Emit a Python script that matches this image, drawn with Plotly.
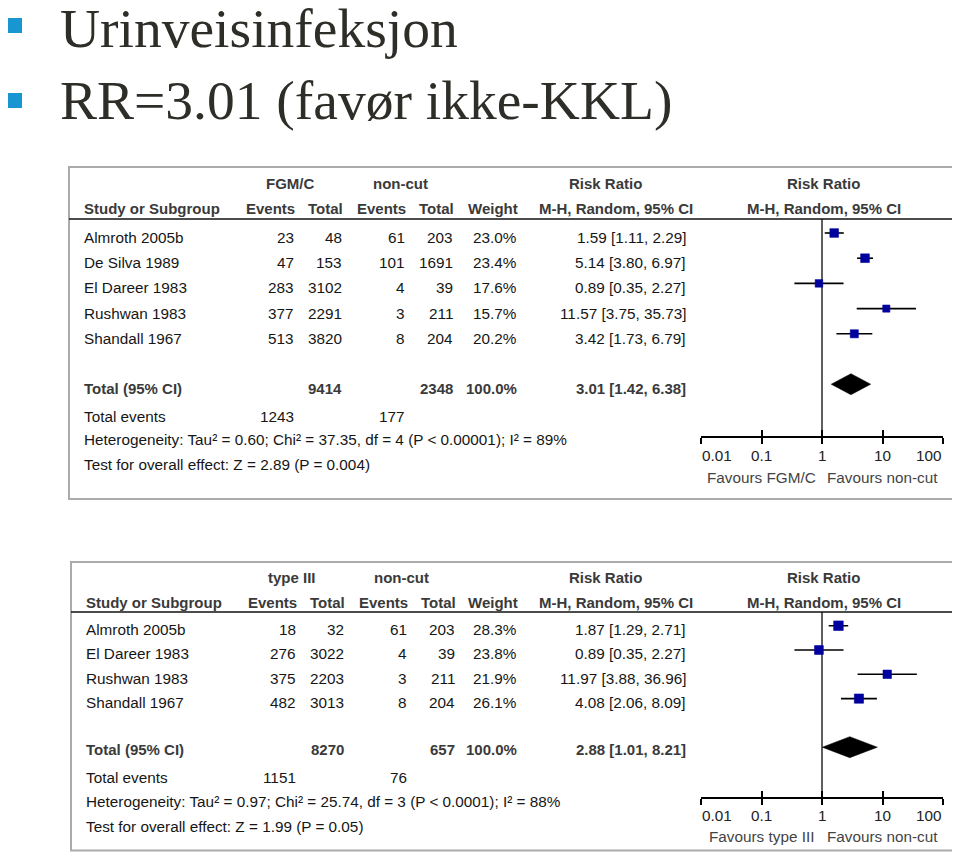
import numpy as np
import plotly.graph_objects as go

# The page body has an 8px margin, so the figure is sized to fill the 960x860 window
# exactly and screen positions below are mapped through that offset.
SCREEN_W, SCREEN_H, OFF = 960, 860, 8
W, H = SCREEN_W - 2 * OFF, SCREEN_H - 2 * OFF
FONT = "Liberation Sans, Arial, sans-serif"
FS = 15.3
FSB = 15.0
BODY = "#161616"
HEAD = "#3a3a3a"
BLUE = "#00009f"

# ---------------- Data: panel 1 (FGM/C vs non-cut) ----------------
studies1 = ["Almroth 2005b", "De Silva 1989", "El Dareer 1983", "Rushwan 1983", "Shandall 1967"]
ev_exp1 = [23, 47, 283, 377, 513]
tot_exp1 = [48, 153, 3102, 2291, 3820]
ev_ctl1 = [61, 101, 4, 3, 8]
tot_ctl1 = [203, 1691, 39, 211, 204]
weight1 = [23.0, 23.4, 17.6, 15.7, 20.2]
rr1 = [1.59, 5.14, 0.89, 11.57, 3.42]
lo1 = [1.11, 3.80, 0.35, 3.75, 1.73]
hi1 = [2.29, 6.97, 2.27, 35.73, 6.79]
sum_n_exp1, sum_n_ctl1 = 9414, 2348
sum_ev_exp1, sum_ev_ctl1 = 1243, 177
sum_weight1 = "100.0%"
pooled1 = [3.01, 1.42, 6.38]
het1 = "Heterogeneity: Tau² = 0.60; Chi² = 37.35, df = 4 (P < 0.00001); I² = 89%"
eff1 = "Test for overall effect: Z = 2.89 (P = 0.004)"
groups1 = ["FGM/C", "non-cut"]
favours1 = ["Favours FGM/C", "Favours non-cut"]

# ---------------- Data: panel 2 (type III vs non-cut) ----------------
studies2 = ["Almroth 2005b", "El Dareer 1983", "Rushwan 1983", "Shandall 1967"]
ev_exp2 = [18, 276, 375, 482]
tot_exp2 = [32, 3022, 2203, 3013]
ev_ctl2 = [61, 4, 3, 8]
tot_ctl2 = [203, 39, 211, 204]
weight2 = [28.3, 23.8, 21.9, 26.1]
rr2 = [1.87, 0.89, 11.97, 4.08]
lo2 = [1.29, 0.35, 3.88, 2.06]
hi2 = [2.71, 2.27, 36.96, 8.09]
sum_n_exp2, sum_n_ctl2 = 8270, 657
sum_ev_exp2, sum_ev_ctl2 = 1151, 76
sum_weight2 = "100.0%"
pooled2 = [2.88, 1.01, 8.21]
het2 = "Heterogeneity: Tau² = 0.97; Chi² = 25.74, df = 3 (P < 0.0001); I² = 88%"
eff2 = "Test for overall effect: Z = 1.99 (P = 0.05)"
groups2 = ["type III", "non-cut"]
favours2 = ["Favours type III", "Favours non-cut"]

tick_vals = [0.01, 0.1, 1, 10, 100]
tick_text = ["0.01", "0.1", "1", "10", "100"]

title_lines = ["Urinveisinfeksjon", "RR=3.01 (favør ikke-KKL)"]


def px(x):
    return (x - OFF) / W


def py(y):
    return 1 - (y - OFF) / H


fig = go.Figure()


def txt(x, y, s, anchor="left", bold=False, color=BODY, size=None, family=FONT):
    if size is None:
        size = FSB if bold else FS
    fig.add_annotation(
        x=px(x), y=py(y), xref="paper", yref="paper",
        text=f"<b>{s}</b>" if bold else s, showarrow=False,
        xanchor=anchor, yanchor="middle", borderpad=0,
        font=dict(family=family, size=size, color=color),
    )


def panel(idx, d, L):
    xa = "x" if idx == 1 else "x3"
    xo = "x2" if idx == 1 else "x4"
    ya = "y" if idx == 1 else "y2"
    xa_l = "xaxis" if idx == 1 else "xaxis3"
    xo_l = "xaxis2" if idx == 1 else "xaxis4"
    ya_l = "yaxis" if idx == 1 else "yaxis2"
    dx = L["dx"]
    unit = L["unit"]
    r0 = L["row0"]

    # frame and header rule
    fig.add_shape(type="rect", xref="paper", yref="paper",
                  x0=px(L["box"][0]), y0=py(L["box"][1]), x1=px(L["box"][2]), y1=py(L["box"][3]),
                  line=dict(color="#ababab", width=2), layer="below")
    fig.add_shape(type="line", xref="paper", yref="paper",
                  x0=px(L["box"][0]), x1=px(L["box"][2]), y0=py(L["rule"]), y1=py(L["rule"]),
                  line=dict(color="#111111", width=1.5))

    # headers
    yg, yh = L["hg"], L["hh"]
    txt(290 + dx, yg, d["groups"][0], "center", True, HEAD)
    txt(400 + dx, yg, d["groups"][1], "center", True, HEAD)
    txt(605, yg, "Risk Ratio", "center", True, HEAD)
    txt(823, yg, "Risk Ratio", "center", True, HEAD)
    txt(83 + dx, yh, "Study or Subgroup", "left", True, HEAD)
    txt(296 + dx, yh, "Events", "right", True, HEAD)
    txt(344 + dx, yh, "Total", "right", True, HEAD)
    txt(407 + dx, yh, "Events", "right", True, HEAD)
    txt(455 + dx, yh, "Total", "right", True, HEAD)
    txt(519, yh, "Weight", "right", True, HEAD)
    txt(616, yh, "M-H, Random, 95% CI", "center", True, HEAD)
    txt(824, yh, "M-H, Random, 95% CI", "center", True, HEAD)

    # study rows
    n = len(d["studies"])
    rows = list(range(n))
    for i in rows:
        yt = r0 + unit * i + L["toff"]
        txt(83 + dx, yt, d["studies"][i])
        txt(295 + dx, yt, str(d["ev_exp"][i]), "right")
        txt(343 + dx, yt, str(d["tot_exp"][i]), "right")
        txt(406 + dx, yt, str(d["ev_ctl"][i]), "right")
        txt(454 + dx, yt, str(d["tot_ctl"][i]), "right")
        txt(518, yt, f"{d['weight'][i]:.1f}%", "right")
        txt(687, yt, f"{d['rr'][i]:.2f} [{d['lo'][i]:.2f}, {d['hi'][i]:.2f}]", "right")

    # total row
    trow = n + 1
    yt = L["ttext"]
    p = d["pooled"]
    txt(83 + dx, yt, "Total (95% CI)", "left", True, HEAD)
    txt(343 + dx, yt, str(d["sum_n_exp"]), "right", True, HEAD)
    txt(454 + dx, yt, str(d["sum_n_ctl"]), "right", True, HEAD)
    txt(518, yt, d["sum_weight"], "right", True, HEAD)
    txt(687, yt, f"{p[0]:.2f} [{p[1]:.2f}, {p[2]:.2f}]", "right", True, HEAD)

    # footer
    txt(83 + dx, L["fe"], "Total events")
    txt(295 + dx, L["fe"], str(d["sum_ev_exp"]), "right")
    txt(406 + dx, L["fe"], str(d["sum_ev_ctl"]), "right")
    txt(83 + dx, L["fh"], d["het"])
    txt(83 + dx, L["ft"], d["eff"])

    # axes
    top_u = (L["rule"] - r0) / unit
    bot_u = (L["axis"] - r0) / unit
    dom_x = [px(701), px(943)]
    dom_y = [py(L["axis"]), py(L["rule"])]

    # null line
    fig.add_trace(go.Scatter(x=[1, 1], y=[top_u, bot_u], mode="lines",
                             line=dict(color="#2a2a2a", width=1.5),
                             xaxis=xa, yaxis=ya, hoverinfo="skip", showlegend=False))
    # CIs
    cx, cy = [], []
    for i in rows:
        cx += [d["lo"][i], d["hi"][i], None]
        cy += [i, i, None]
    fig.add_trace(go.Scatter(x=cx, y=cy, mode="lines", line=dict(color="#000000", width=1.6),
                             xaxis=xa, yaxis=ya, hoverinfo="skip", showlegend=False))
    # boxes
    fig.add_trace(go.Scatter(x=d["rr"], y=rows, mode="markers",
                             marker=dict(symbol="square", color=BLUE, opacity=1,
                                         size=[1.8 * np.sqrt(w) for w in d["weight"]],
                                         line=dict(width=0.6, color=BLUE)),
                             xaxis=xa, yaxis=ya, showlegend=False))
    # diamond
    hh = 10.5 / unit
    fig.add_trace(go.Scatter(x=[p[1], p[0], p[2], p[0], p[1]],
                             y=[trow, trow - hh, trow, trow + hh, trow],
                             mode="lines", fill="toself", fillcolor="#000000",
                             line=dict(color="#000000", width=0.5),
                             xaxis=xa, yaxis=ya, hoverinfo="skip", showlegend=False))
    # dummy trace for overlay axis
    fig.add_trace(go.Scatter(x=[1], y=[0], mode="markers", marker=dict(opacity=0),
                             xaxis=xo, yaxis=ya, hoverinfo="skip", showlegend=False))

    common = dict(type="log", domain=dom_x, range=[-2, 2], anchor=ya, automargin=False,
                  showgrid=False, zeroline=False, fixedrange=True,
                  tickvals=tick_vals, ticktext=tick_text, showticklabels=False,
                  tickwidth=1.5, tickcolor="#000000", ticklen=6)
    fig.update_layout({
        xa_l: dict(common, showline=True, linecolor="#000000", linewidth=1.5,
                   ticks="outside"),
        xo_l: dict(common, overlaying=xa, showline=False, ticks="inside"),
        ya_l: dict(domain=dom_y, range=[bot_u, top_u], visible=False, automargin=False,
                   showgrid=False, zeroline=False, fixedrange=True),
    })
    # tick labels: end labels sit inside the axis span, as in RevMan
    for k, (v, t) in enumerate(zip(tick_vals, tick_text)):
        anc = "left" if k == 0 else ("right" if k == len(tick_vals) - 1 else "center")
        fig.add_annotation(x=np.log10(v), y=py(L["tick"]), xref=xa, yref="paper",
                           text=t, showarrow=False, xanchor=anc, yanchor="middle",
                           borderpad=0, font=dict(family=FONT, size=FS, color="#222222"))
    fig.add_annotation(x=np.log10(0.1), y=py(L["fav"]), xref=xa, yref="paper",
                       text=d["favours"][0], showarrow=False, xanchor="center", yanchor="middle",
                       font=dict(family=FONT, size=FS, color="#444444"))
    fig.add_annotation(x=np.log10(10), y=py(L["fav"]), xref=xa, yref="paper",
                       text=d["favours"][1], showarrow=False, xanchor="center", yanchor="middle",
                       font=dict(family=FONT, size=FS, color="#444444"))


d1 = dict(studies=studies1, ev_exp=ev_exp1, tot_exp=tot_exp1, ev_ctl=ev_ctl1, tot_ctl=tot_ctl1,
          weight=weight1, rr=rr1, lo=lo1, hi=hi1, sum_n_exp=sum_n_exp1, sum_n_ctl=sum_n_ctl1,
          sum_ev_exp=sum_ev_exp1, sum_ev_ctl=sum_ev_ctl1, sum_weight=sum_weight1,
          pooled=pooled1, het=het1, eff=eff1, groups=groups1, favours=favours1)
d2 = dict(studies=studies2, ev_exp=ev_exp2, tot_exp=tot_exp2, ev_ctl=ev_ctl2, tot_ctl=tot_ctl2,
          weight=weight2, rr=rr2, lo=lo2, hi=hi2, sum_n_exp=sum_n_exp2, sum_n_ctl=sum_n_ctl2,
          sum_ev_exp=sum_ev_exp2, sum_ev_ctl=sum_ev_ctl2, sum_weight=sum_weight2,
          pooled=pooled2, het=het2, eff=eff2, groups=groups2, favours=favours2)

L1 = dict(box=(69, 167, 957, 499), rule=219, hg=183, hh=208.7, row0=233, unit=25.2, toff=4.5,
          ttext=388, fe=416, fh=440, ft=464, axis=436, tick=455.5, fav=477, dx=0)
L2 = dict(box=(71, 562, 957, 850.5), rule=612, hg=577.5, hh=602, row0=625.7, unit=24.3, toff=3.7,
          ttext=749, fe=777, fh=801.5, ft=826, axis=797.3, tick=815, fav=836, dx=1.5)

panel(1, d1, L1)
panel(2, d2, L2)

# title bullets and text
for yb, yc, line in [(18, 28, title_lines[0]), (93, 101, title_lines[1])]:
    fig.add_shape(type="rect", xref="paper", yref="paper",
                  x0=px(8), x1=px(22), y0=py(yb), y1=py(yb + 15),
                  fillcolor="#1896d2", line=dict(width=0))
    txt(59, yc, line, "left", False, "#2e2d28", 55.5, "Liberation Serif, Times New Roman, serif")

fig.update_layout(template="none", width=W, height=H, autosize=False,
                  margin=dict(l=0, r=0, t=0, b=0, pad=0, autoexpand=False),
                  paper_bgcolor="#ffffff", plot_bgcolor="rgba(0,0,0,0)",
                  showlegend=False)

fig.write_html("out.html")
